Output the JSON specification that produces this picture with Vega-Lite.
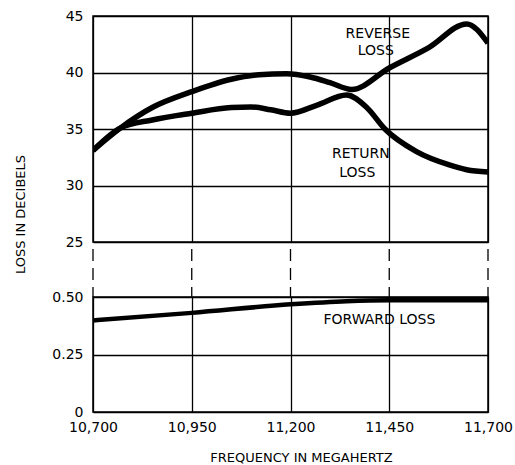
{
  "$schema": "https://vega.github.io/schema/vega-lite/v6.json",
  "padding": {"left": 13, "top": 8, "right": 5, "bottom": 2},
  "background": "white",
  "spacing": 0,
  "bounds": "flush",
  "config": {
    "font": "DejaVu Sans",
    "view": {"stroke": "black", "strokeWidth": 1.5},
    "axis": {
      "labelFont": "DejaVu Sans",
      "labelFontSize": 14,
      "labelColor": "black",
      "titleFont": "DejaVu Sans",
      "titleFontSize": 13,
      "titleFontWeight": "normal",
      "titleColor": "black",
      "gridColor": "black",
      "gridOpacity": 1,
      "gridWidth": 1.3,
      "ticks": false,
      "domain": false,
      "labelPadding": 10
    }
  },
  "datasets": {
    "curves": [
      {"series": "Reverse loss", "freq": 10700, "loss": 33.1},
      {"series": "Reverse loss", "freq": 10770, "loss": 35.1},
      {"series": "Reverse loss", "freq": 10850, "loss": 36.9},
      {"series": "Reverse loss", "freq": 10950, "loss": 38.3},
      {"series": "Reverse loss", "freq": 11050, "loss": 39.4},
      {"series": "Reverse loss", "freq": 11120, "loss": 39.8},
      {"series": "Reverse loss", "freq": 11190, "loss": 39.9},
      {"series": "Reverse loss", "freq": 11250, "loss": 39.6},
      {"series": "Reverse loss", "freq": 11300, "loss": 39.1},
      {"series": "Reverse loss", "freq": 11355, "loss": 38.5},
      {"series": "Reverse loss", "freq": 11450, "loss": 40.4},
      {"series": "Reverse loss", "freq": 11550, "loss": 42.2},
      {"series": "Reverse loss", "freq": 11646, "loss": 44.3},
      {"series": "Reverse loss", "freq": 11700, "loss": 42.6},
      {"series": "Return loss", "freq": 10700, "loss": 33.1},
      {"series": "Return loss", "freq": 10770, "loss": 35.1},
      {"series": "Return loss", "freq": 10850, "loss": 35.8},
      {"series": "Return loss", "freq": 10950, "loss": 36.4},
      {"series": "Return loss", "freq": 11050, "loss": 36.9},
      {"series": "Return loss", "freq": 11100, "loss": 36.95},
      {"series": "Return loss", "freq": 11150, "loss": 36.7},
      {"series": "Return loss", "freq": 11200, "loss": 36.4},
      {"series": "Return loss", "freq": 11266, "loss": 37.1},
      {"series": "Return loss", "freq": 11342, "loss": 38.0},
      {"series": "Return loss", "freq": 11393, "loss": 36.9},
      {"series": "Return loss", "freq": 11439, "loss": 35.0},
      {"series": "Return loss", "freq": 11519, "loss": 33.0},
      {"series": "Return loss", "freq": 11604, "loss": 31.8},
      {"series": "Return loss", "freq": 11646, "loss": 31.4},
      {"series": "Return loss", "freq": 11700, "loss": 31.2}
    ],
    "forward": [
      {"freq": 10700, "loss": 0.398},
      {"freq": 10950, "loss": 0.431},
      {"freq": 11200, "loss": 0.468},
      {"freq": 11342, "loss": 0.482},
      {"freq": 11450, "loss": 0.486},
      {"freq": 11700, "loss": 0.486}
    ],
    "gridlines": [
      {"freq": 10700}, {"freq": 10950}, {"freq": 11200}, {"freq": 11450}, {"freq": 11700}
    ],
    "upperNotes": [
      {"text": "REVERSE", "freq": 11421, "loss": 43.4},
      {"text": "LOSS", "freq": 11416, "loss": 41.9},
      {"text": "RETURN", "freq": 11378, "loss": 32.8},
      {"text": "LOSS", "freq": 11369, "loss": 31.1}
    ],
    "lowerNotes": [
      {"text": "FORWARD LOSS", "freq": 11425, "loss": 0.399}
    ]
  },
  "resolve": {"scale": {"x": "independent", "y": "independent"}},
  "vconcat": [
    {
      "width": 395,
      "height": 226,
      "layer": [
        {
          "data": {"name": "curves"},
          "mark": {"type": "line", "interpolate": "monotone", "strokeWidth": 5.5, "color": "black", "clip": true},
          "encoding": {
            "x": {
              "field": "freq", "type": "quantitative",
              "scale": {"domain": [10700, 11700], "nice": false, "zero": false},
              "axis": {"values": [10700, 10950, 11200, 11450, 11700], "labels": false, "labelPadding": 0, "title": null, "grid": true}
            },
            "y": {
              "field": "loss", "type": "quantitative",
              "scale": {"domain": [25, 45], "nice": false, "zero": false},
              "axis": {
                "values": [25, 30, 35, 40, 45], "grid": true,
                "title": "LOSS IN DECIBELS", "titleAngle": -90,
                "titleX": -73, "titleY": 198, "titleBaseline": "middle", "titleAlign": "center"
              }
            },
            "detail": {"field": "series"}
          }
        },
        {
          "data": {"name": "upperNotes"},
          "mark": {"type": "text", "fontSize": 14, "baseline": "middle", "align": "center", "color": "black"},
          "encoding": {
            "x": {"field": "freq", "type": "quantitative"},
            "y": {"field": "loss", "type": "quantitative"},
            "text": {"field": "text"}
          }
        }
      ]
    },
    {
      "width": 395,
      "height": 55,
      "view": {"stroke": null},
      "data": {"name": "gridlines"},
      "mark": {"type": "rule", "strokeDash": [12, 7], "strokeDashOffset": 12, "strokeWidth": 1.3, "color": "black"},
      "encoding": {
        "x": {
          "field": "freq", "type": "quantitative",
          "scale": {"domain": [10700, 11700], "nice": false, "zero": false},
          "axis": null
        }
      }
    },
    {
      "width": 395,
      "height": 115,
      "layer": [
        {
          "data": {"name": "forward"},
          "mark": {"type": "line", "interpolate": "monotone", "strokeWidth": 4.5, "color": "black", "clip": true},
          "encoding": {
            "x": {
              "field": "freq", "type": "quantitative",
              "scale": {"domain": [10700, 11700], "nice": false, "zero": false},
              "axis": {
                "values": [10700, 10950, 11200, 11450, 11700], "format": ",.0f", "grid": true,
                "labelFlush": false, "labelPadding": 8,
                "title": "FREQUENCY IN MEGAHERTZ", "titleX": 208, "titleY": 45, "titleBaseline": "middle"
              }
            },
            "y": {
              "field": "loss", "type": "quantitative",
              "scale": {"domain": [0, 0.5], "nice": false, "zero": false},
              "axis": {
                "values": [0, 0.25, 0.5], "grid": true, "title": null,
                "labelExpr": "datum.value == 0 ? '0' : format(datum.value, '.2f')"
              }
            }
          }
        },
        {
          "data": {"name": "lowerNotes"},
          "mark": {"type": "text", "fontSize": 14, "baseline": "middle", "align": "center", "color": "black"},
          "encoding": {
            "x": {"field": "freq", "type": "quantitative"},
            "y": {"field": "loss", "type": "quantitative"},
            "text": {"field": "text"}
          }
        }
      ]
    }
  ]
}
